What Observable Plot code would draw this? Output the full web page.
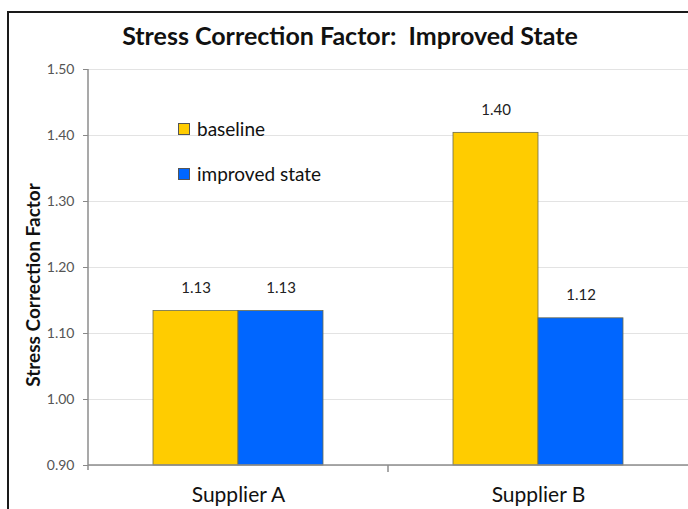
<!DOCTYPE html>
<html>
<head>
<meta charset="utf-8">
<script src="https://cdn.jsdelivr.net/npm/d3@7"></script>
<script src="https://cdn.jsdelivr.net/npm/@observablehq/plot@0.6"></script>
<style>
  body { margin: 0; background: #fff; font-family: Lato, "Open Sans", sans-serif; }
  #wrap { position: relative; width: 688px; height: 509px; overflow: hidden; background: #fff; }
  #frame { position: absolute; left: 7px; top: 11px; width: 700px; height: 520px; border: 2.5px solid #1a1a1a; box-sizing: border-box; }
  #title { position: absolute; left: 0; width: 700px; top: 20px; text-align: center; font-weight: bold; font-size: 25px; color: #111; }
  #ylab { position: absolute; left: 32px; top: 285px; transform: translate(-50%, -50%) rotate(-90deg); white-space: nowrap; font-weight: bold; font-size: 19px; color: #111; }
  .leg { position: absolute; left: 178px; font-size: 19px; color: #111; display: flex; align-items: center; }
  .sw { width: 10px; height: 10px; border: 1px solid #555; margin-right: 7px; }
  #plot { position: absolute; left: 0; top: 0; }
</style>
</head>
<body>
<div id="wrap">
  <div id="plot"></div>
  <div id="frame"></div>
  <div id="title">Stress Correction Factor:&nbsp; Improved State</div>
  <div id="ylab">Stress Correction Factor</div>
  <div id="legend"></div>
</div>
<script>
const suppliers = ["Supplier A", "Supplier B"];
const seriesNames = ["baseline", "improved state"];
const baselineValues = [1.134, 1.404];
const improvedValues = [1.134, 1.123];
const seriesColors = ["#FFCC00", "#0066FF"];
const yTicks = [0.9, 1.0, 1.1, 1.2, 1.3, 1.4, 1.5];
const yMin = 0.9, yMax = 1.5;

const data = [];
suppliers.forEach((s, i) => {
  data.push({supplier: s, series: seriesNames[0], value: baselineValues[i]});
  data.push({supplier: s, series: seriesNames[1], value: improvedValues[i]});
});

const chart = Plot.plot({
  width: 688,
  height: 509,
  marginTop: 69,
  marginBottom: 44,
  marginLeft: 88,
  marginRight: 0,
  style: {fontFamily: "Lato, 'Open Sans', sans-serif", background: "transparent"},
  fx: {domain: suppliers, padding: 0, label: null},
  x: {domain: seriesNames, paddingInner: 0, paddingOuter: 0.75, axis: null},
  y: {type: "linear", domain: [yMin, yMax], label: null},
  color: {domain: seriesNames, range: seriesColors},
  marks: [
    Plot.gridY(yTicks, {stroke: "#e3e3e3", strokeOpacity: 1, strokeWidth: 1.2}),
    Plot.barY(data, {fx: "supplier", x: "series", y1: () => yMin, y2: "value", fill: "series", stroke: "#6b6b4a", strokeWidth: 0.8}),
    Plot.text(data, {fx: "supplier", x: "series", y: "value", text: d => d.value.toFixed(2), dy: -23, fontSize: 15, fill: "#222"}),
    Plot.axisY(yTicks, {tickFormat: d3.format(".2f"), tickSize: 5, tickPadding: 9, fontSize: 14, fill: "#555", stroke: "#888", label: null}),
    Plot.axisFx({anchor: "bottom", tickSize: 0, tickPadding: 22, fontSize: 21, fill: "#111", label: null})
  ]
});
document.getElementById("plot").appendChild(chart);

// axis lines and category separator, placed through the chart's own scales
const ys = chart.scale("y"), fxs = chart.scale("fx");
const svg = d3.select(chart);
const y0 = ys.apply(yMin), yTop = ys.apply(yMax);
const xLeft = fxs.apply(suppliers[0]);
const xRight = fxs.apply(suppliers[suppliers.length - 1]) + fxs.bandwidth;
const g = svg.append("g").attr("stroke", "#8c8c8c").attr("stroke-width", 1.5);
g.append("line").attr("x1", xLeft).attr("x2", xLeft).attr("y1", yTop).attr("y2", y0 + 5);
g.append("line").attr("x1", xLeft).attr("x2", xRight).attr("y1", y0).attr("y2", y0);
suppliers.slice(1).forEach(s => {
  const xs = fxs.apply(s);
  g.append("line").attr("x1", xs).attr("x2", xs).attr("y1", y0).attr("y2", y0 + 7);
});

const legend = document.getElementById("legend");
seriesNames.forEach((name, i) => {
  const row = document.createElement("div");
  row.className = "leg";
  row.style.top = (117 + i * 45) + "px";
  const sw = document.createElement("div");
  sw.className = "sw";
  sw.style.background = seriesColors[i];
  row.appendChild(sw);
  row.appendChild(document.createTextNode(name));
  legend.appendChild(row);
});
</script>
</body>
</html>
